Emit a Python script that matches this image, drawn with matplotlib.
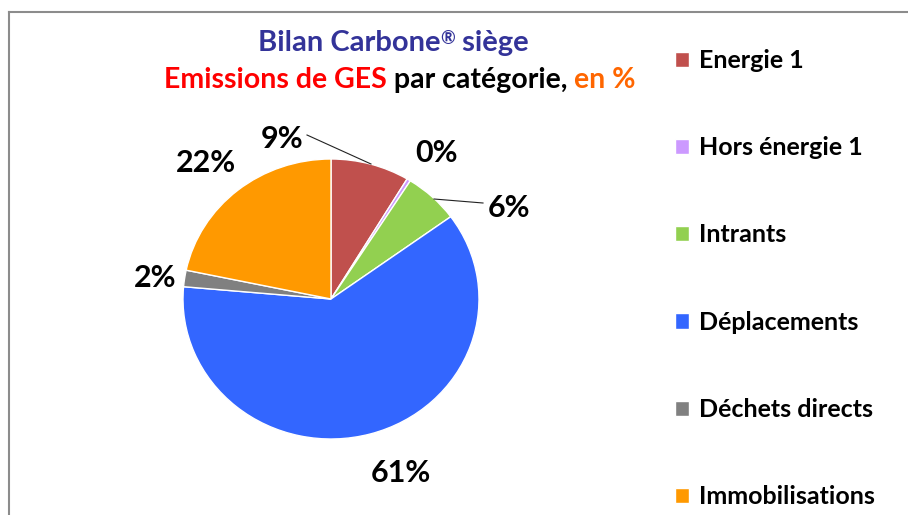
import matplotlib
matplotlib.use("Agg")
import matplotlib.pyplot as plt
from matplotlib.lines import Line2D

categories = ["Energie 1", "Hors énergie 1", "Intrants",
              "Déplacements", "Déchets directs", "Immobilisations"]
shares = [8.6, 0.4, 6.0, 61.4, 1.9, 21.7]
colors = ["#C0504D", "#CC99FF", "#92D050", "#3366FF", "#808080", "#FF9900"]

W, H = 908, 515
CX, CY = 331, 299      # pie centre, pixels from top-left
RX, RY = 148, 140      # pie radii in pixels (chart is a bit stretched)

# label anchors (pixel x, baseline pixel y) for each slice
label_pos = [(282, 148), (437, 162), (509, 217), (401, 482), (155, 287), (206, 172)]
# leader lines: (label end, slice end) in pixels
leaders = {0: ((307, 135), (371, 164)), 2: ((483, 203), (434, 199))}

FONT = "Lato"


def px(x, y):
    # pixel coords -> pie data coords
    return (x - CX) / RX, (CY - y) / RY


def pieced_text(fig, parts, xc, base):
    # one line made of several coloured bits, centred on xc (pixels)
    r = fig.canvas.get_renderer()
    placed = []
    x = 0
    for s, c, size, rise in parts:
        t = fig.text(x, 1 - (base - rise) / H, s, color=c, fontsize=size,
                     fontweight="bold", family=FONT, ha="left", va="baseline")
        w = t.get_window_extent(r).width / W
        placed.append((t, x))
        x += w
    shift = xc / W - x / 2
    for t, x0 in placed:
        t.set_x(x0 + shift)


def draw_title(fig):
    pieced_text(fig, [("Bilan Carbone", "#333399", 21, 0),
                      ("®", "#333399", 13, 7),
                      (" siège", "#333399", 21, 0)], 393, 51)
    pieced_text(fig, [("Emissions de GES", "#FF0000", 20.5, 0),
                      (" par catégorie, ", "#000000", 20.5, 0),
                      ("en %", "#FF6600", 20.5, 0)], 400, 88)


def createPlot():
    fig = plt.figure(figsize=(W / 100, H / 100), dpi=100, facecolor="white")
    ax = fig.add_axes([0, 0, 1, 1])
    wedges, _ = ax.pie(shares, colors=colors, startangle=90, counterclock=False,
                       wedgeprops=dict(edgecolor="white", linewidth=1))
    ax.set_aspect("auto")
    ax.set_xlim(-CX / RX, (W - CX) / RX)
    ax.set_ylim(-(H - CY) / RY, CY / RY)
    ax.axis("off")

    for v, (x, y) in zip(shares, label_pos):
        lx, ly = px(x, y)
        ax.text(lx, ly, "%d%%" % round(v), fontsize=22, fontweight="bold",
                family=FONT, ha="center", va="baseline")
    for a, b in leaders.values():
        (x0, y0), (x1, y1) = px(*a), px(*b)
        ax.plot([x0, x1], [y0, y1], color="#222222", lw=0.8)

    draw_title(fig)

    fig.legend(wedges, categories, loc="upper left",
               bbox_to_anchor=(675 / W, 1 - 49 / H), frameon=False,
               prop=dict(family=FONT, weight="bold", size=18),
               handlelength=0.56, handleheight=0.56, handletextpad=0.4,
               labelspacing=2.57, borderpad=0, borderaxespad=0)

    # chart frame (top and left edges are visible in the crop)
    fig.add_artist(Line2D([9 / W, 1], [1 - 12 / H, 1 - 12 / H], color="#8c8c8c", lw=1.5))
    fig.add_artist(Line2D([9 / W, 9 / W], [0, 1 - 12 / H], color="#8c8c8c", lw=1.5))

    fig.savefig("out.png", dpi=100)


if __name__ == "__main__":
    createPlot()
